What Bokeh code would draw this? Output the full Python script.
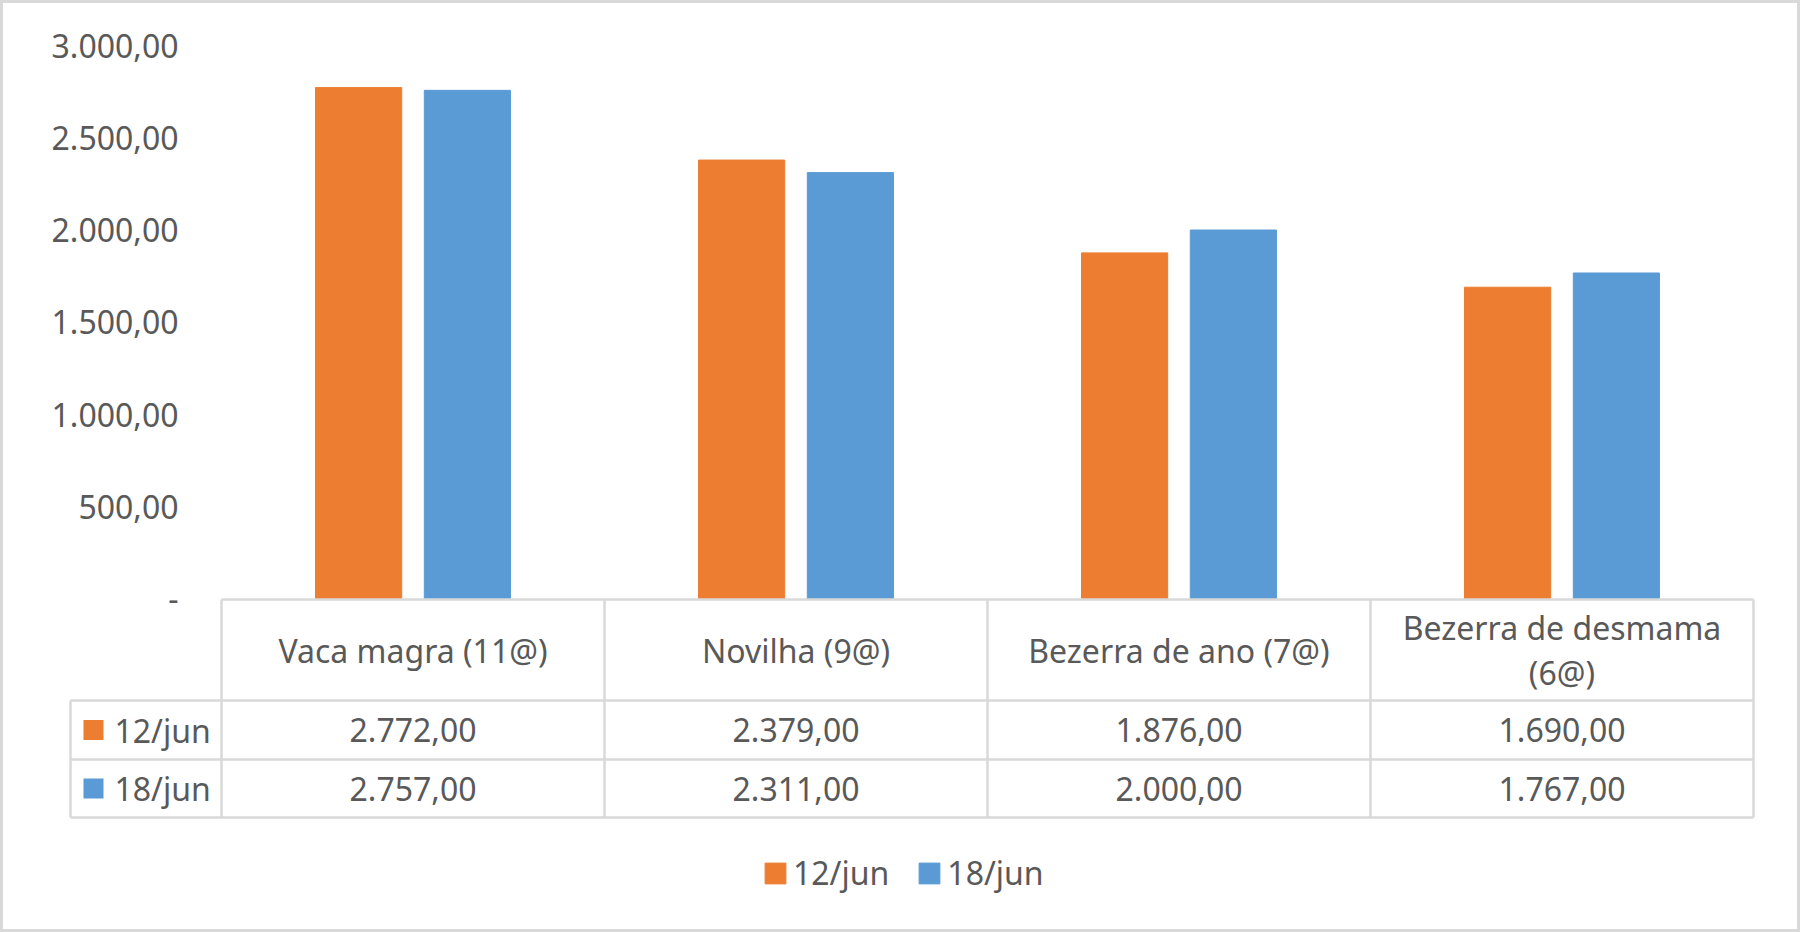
from bokeh.plotting import figure
from bokeh.models import Range1d, LegendItem, Legend, ColumnDataSource
from bokeh.transform import dodge
from bokeh.core.properties import value
from bokeh.embed import file_html
from bokeh.resources import INLINE

# ---------------- data ----------------
categories = ["Vaca magra (11@)", "Novilha (9@)", "Bezerra de ano (7@)", "Bezerra de desmama (6@)"]
series_names = ["12/jun", "18/jun"]
values_12jun = [2772, 2379, 1876, 1690]
values_18jun = [2757, 2311, 2000, 1767]
y_ticks = [0, 500, 1000, 1500, 2000, 2500, 3000]
y_tick_labels = ["-", "500,00", "1.000,00", "1.500,00", "2.000,00", "2.500,00", "3.000,00"]

# ---------------- style / layout ----------------
ORANGE = "#ED7D31"
BLUE = "#5B9BD5"
TXT = "#595959"
GRID = "#d9d9d9"
FONT = value("Noto Sans")
FS = "32px"

W, H = 1800, 932
Y_MAX = 3000
TOP_Y = 45          # pixel row of Y_MAX
ZERO_Y = 598.5      # pixel row of 0
PPU = (ZERO_Y - TOP_Y) / Y_MAX
CAT_LEFT = 221      # pixel column where first category starts
CAT_W = 383         # pixel width of one category

y_start = -(H - ZERO_Y) / PPU
y_end = Y_MAX + TOP_Y / PPU
x_start = -0.5 - CAT_LEFT / CAT_W
x_end = -0.5 + (W - CAT_LEFT) / CAT_W

# table rows (pixels from top)
HDR_TOP, HDR_BOT, ROW1_BOT, ROW2_BOT = 599, 700, 759, 817
HDR_MID = (HDR_TOP + HDR_BOT) / 2
ROW_MID = [(HDR_BOT + ROW1_BOT) / 2, (ROW1_BOT + ROW2_BOT) / 2]
TABLE_LEFT_PX = 70


def fmt(v):
    return f"{v:,.2f}".replace(",", "X").replace(".", ",").replace("X", ".")


def wrap(s, max_chars=20):
    if len(s) <= max_chars:
        return s
    head, tail = s.rsplit(" ", 1)
    return head + "\n" + tail


idx = list(range(len(categories)))
src = ColumnDataSource(dict(
    idx=idx,
    cat=categories,
    header=[wrap(c) for c in categories],
    v12=values_12jun,
    v18=values_18jun,
    t12=[fmt(v) for v in values_12jun],
    t18=[fmt(v) for v in values_18jun],
))

p = figure(width=W, height=H, x_range=Range1d(x_start, x_end), y_range=Range1d(y_start, y_end),
           output_backend="svg", toolbar_location=None, title=None, tools="",
           x_axis_location=None, y_axis_location=None, min_border=0)
p.extra_x_ranges = {"px": Range1d(0, W)}
p.extra_y_ranges = {"py": Range1d(H, 0)}
p.grid.grid_line_color = None
p.xgrid.visible = False
p.ygrid.visible = False
p.outline_line_color = GRID
p.outline_line_width = 5
p.background_fill_color = "white"
p.border_fill_color = "white"

# bars
r1 = p.vbar(x=dodge("idx", -0.142, range=p.x_range), top="v12", width=0.225, source=src,
            fill_color=ORANGE, line_color=ORANGE)
r2 = p.vbar(x=dodge("idx", 0.142, range=p.x_range), top="v18", width=0.225, source=src,
            fill_color=BLUE, line_color=BLUE)

# y tick labels
p.text(x=178, y=y_ticks, text=y_tick_labels, x_range_name="px",
       text_font=FONT, text_font_size=FS, text_color=TXT,
       text_align="right", text_baseline="middle")

# table grid
n = len(categories)
table_left = x_start + TABLE_LEFT_PX / CAT_W
bounds = [i - 0.5 for i in range(n + 1)]
p.segment(x0=bounds, x1=bounds, y0=[HDR_TOP] * (n + 1), y1=[ROW2_BOT] * (n + 1),
          y_range_name="py", line_color=GRID, line_width=2.5)
p.segment(x0=[table_left], x1=[table_left], y0=[HDR_BOT], y1=[ROW2_BOT],
          y_range_name="py", line_color=GRID, line_width=2.5)
p.segment(x0=[-0.5, table_left, table_left, table_left], x1=[n - 0.5] * 4,
          y0=[HDR_TOP, HDR_BOT, ROW1_BOT, ROW2_BOT], y1=[HDR_TOP, HDR_BOT, ROW1_BOT, ROW2_BOT],
          y_range_name="py", line_color=GRID, line_width=2.5)

# header texts
p.text(x="idx", y=HDR_MID, text="header", source=src, y_range_name="py",
       text_font=FONT, text_font_size=FS, text_color=TXT,
       text_align="center", text_baseline="middle", text_line_height=1.06)
# values
p.text(x="idx", y=ROW_MID[0], text="t12", source=src, y_range_name="py",
       text_font=FONT, text_font_size=FS, text_color=TXT,
       text_align="center", text_baseline="middle")
p.text(x="idx", y=ROW_MID[1], text="t18", source=src, y_range_name="py",
       text_font=FONT, text_font_size=FS, text_color=TXT,
       text_align="center", text_baseline="middle")

# left column: series keys
p.rect(x=[93, 93], y=ROW_MID, width=20, height=20, width_units="screen", height_units="screen",
       x_range_name="px", y_range_name="py", fill_color=[ORANGE, BLUE], line_color=None)
p.text(x=114, y=ROW_MID, text=series_names, x_range_name="px", y_range_name="py",
       text_font=FONT, text_font_size=FS, text_color=TXT,
       text_align="left", text_baseline="middle")

# legend
legend = Legend(items=[LegendItem(label=series_names[0], renderers=[r1]),
                       LegendItem(label=series_names[1], renderers=[r2])],
                orientation="horizontal", location=(752, 28),
                glyph_width=26, glyph_height=26, label_standoff=5, spacing=27,
                label_text_font="Noto Sans", label_text_font_size=FS, label_text_color=TXT,
                border_line_alpha=0, background_fill_alpha=0, padding=10, margin=0)
p.add_layout(legend)

open("out.html", "w").write(file_html(p, INLINE))
